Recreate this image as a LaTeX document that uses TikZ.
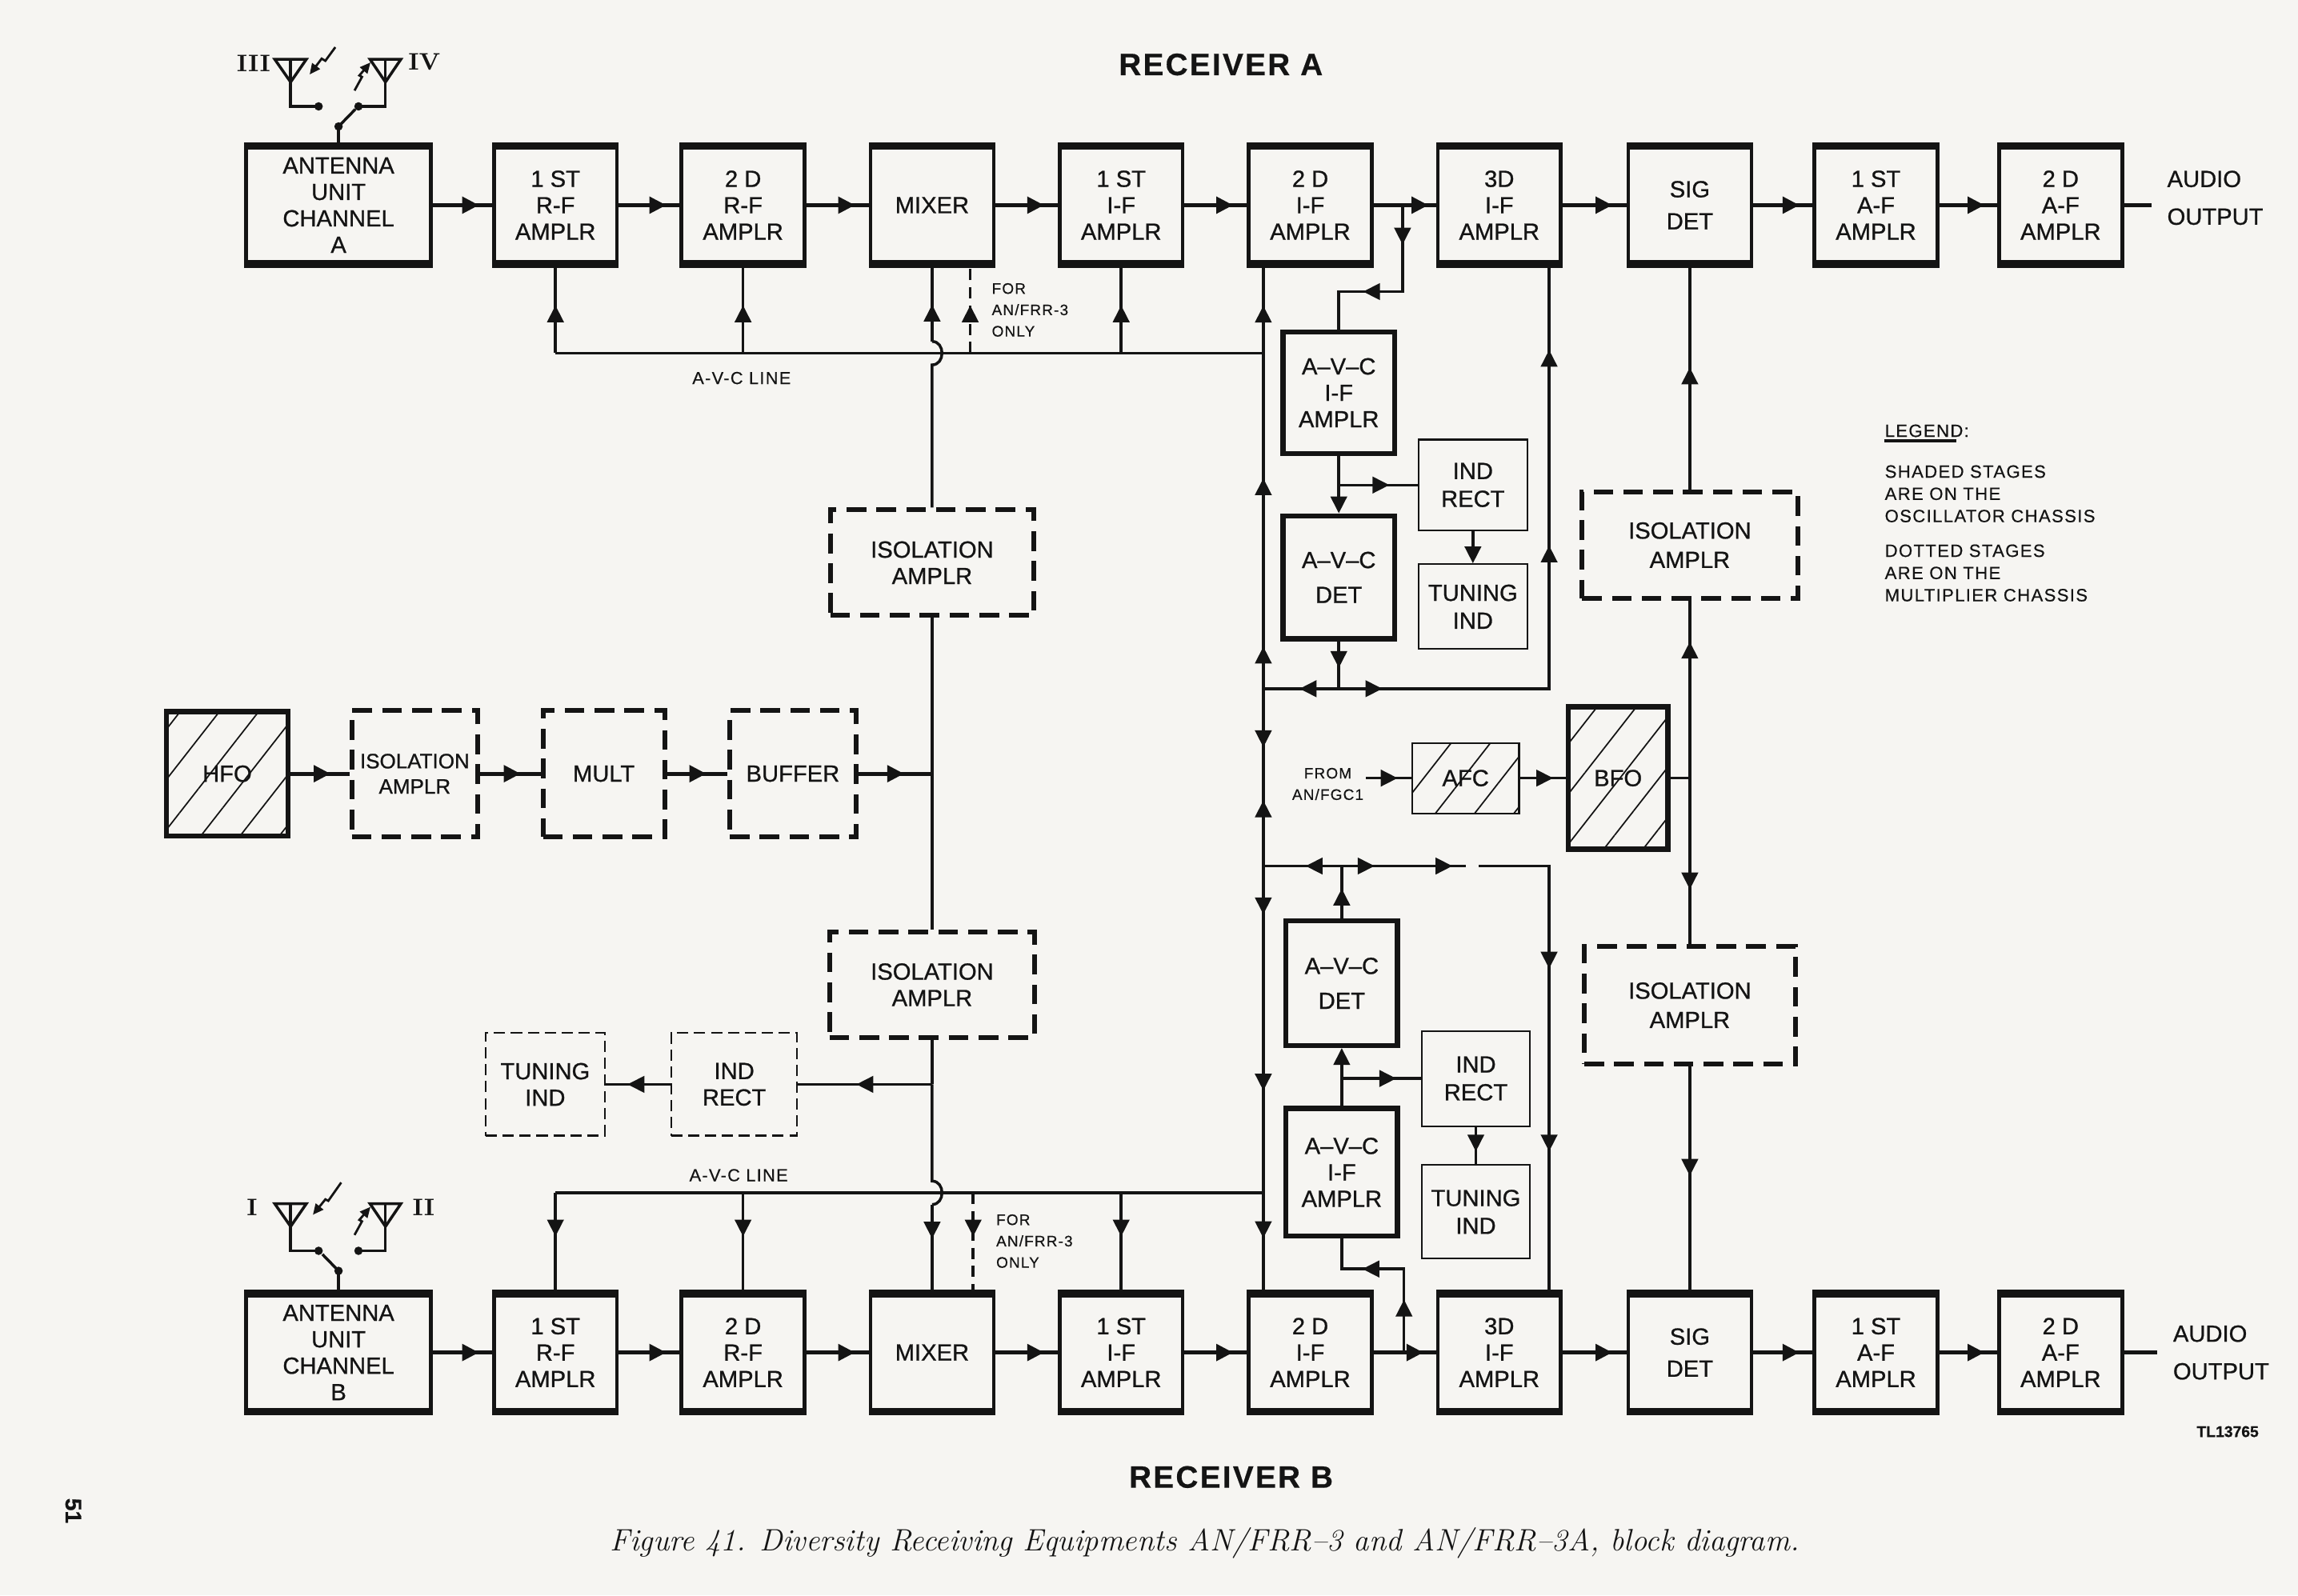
\documentclass[tikz,border=0pt]{standalone}
\usepackage{fontspec}
\newfontfamily\lbl[FakeBold=0.8]{Liberation Sans}
\newfontfamily\lblsp[LetterSpace=6,FakeBold=0.5]{Liberation Sans}
\usetikzlibrary{arrows.meta,decorations.markings,patterns.meta}

\newcommand{\dpx}{0.52114pt}
\newcommand{\boxfont}{\lbl\fontsize{8.3}{9.4}\selectfont}
\newcommand{\smallboxfont}{\lbl\fontsize{7.4}{9}\selectfont}
\newcommand{\tinyfont}{\lblsp\fontsize{5.4}{7.6}\selectfont}
\newcommand{\linefont}{\lblsp\fontsize{6.2}{7.6}\selectfont}
\newcommand{\legfont}{\lblsp\fontsize{6.3}{7.9}\selectfont}
\newcommand{\titlefont}{\lblsp\bfseries\fontsize{11}{13}\selectfont}
\newcommand{\numfont}{\rmfamily\bfseries\fontsize{8.5}{9}\selectfont}
\definecolor{paper}{RGB}{246,245,242}
\definecolor{ink}{RGB}{20,20,20}

\tikzset{
  arrowat/.style={postaction={decorate,decoration={markings,
      mark=at position #1 with {\arrow{Triangle[length=6pt,width=5.8pt]}}}}},
  backat/.style={postaction={decorate,decoration={markings,
      mark=at position #1 with {\arrowreversed{Triangle[length=6pt,width=5.8pt]}}}}}
}

\begin{document}
\begin{tikzpicture}[x=0.52114pt, y=-0.52114pt, color=ink,
  stage/.style={draw, line width=1.3pt, align=center, inner sep=0pt, font=\boxfont,
    minimum width=84*\dpx, minimum height=83*\dpx,
    path picture={\draw[line width=4pt]
      (path picture bounding box.north west) -- (path picture bounding box.north east)
      (path picture bounding box.south west) -- (path picture bounding box.south east);}},
  avcstage/.style={draw, line width=1.8pt, align=center, inner sep=0pt, font=\boxfont,
    minimum width=76*\dpx, minimum height=84*\dpx},
  osc/.style={draw, line width=1.9pt, align=center, inner sep=0pt, font=\boxfont,
    pattern={Lines[angle=52,distance=11pt,line width=0.5pt]}, pattern color=ink},
  afcbox/.style={osc, line width=0.6pt},
  multbox/.style={draw, line width=1.7pt, dash pattern=on 7pt off 3.6pt, align=center,
    inner sep=0pt, font=\boxfont},
  indbox/.style={draw, line width=0.6pt, align=center, inner sep=0pt, font=\boxfont,
    minimum width=74*\dpx},
  inddash/.style={indbox, dash pattern=on 4pt off 2pt},
  sig/.style={line width=1.4pt},
  ctl/.style={line width=1pt},
  only/.style={ctl, dash pattern=on 4pt off 2.5pt},
  bolt/.style={line width=0.8pt, -{Triangle[length=3.8pt,width=3.4pt]}}
]
% page
\path[fill=paper, use as bounding box] (0,0) rectangle (1568,1088.7);

% receiver rows
\node[stage, minimum width=126*\dpx] (antA) at (231,140) {ANTENNA\\UNIT\\CHANNEL\\A};
\node[stage, minimum width=126*\dpx] (antB) at (231,923) {ANTENNA\\UNIT\\CHANNEL\\B};
\foreach \n/\x/\txt in {rfone/379/{1 ST\\R-F\\AMPLR}, rftwo/507/{2 D\\R-F\\AMPLR},
    mix/636/MIXER, ifone/765/{1 ST\\I-F\\AMPLR}, iftwo/894/{2 D\\I-F\\AMPLR},
    ifthree/1023/{3D\\I-F\\AMPLR}, sig/1153/{SIG\\[2pt]DET},
    afone/1280/{1 ST\\A-F\\AMPLR}, aftwo/1406/{2 D\\A-F\\AMPLR}} {
  \node[stage] (\n A) at (\x,140) {\txt};
  \node[stage] (\n B) at (\x,923) {\txt};
}
\foreach \a/\b/\p in {ant/rfone/.78, rfone/rftwo/.78, rftwo/mix/.78, mix/ifone/.78,
    ifone/iftwo/.78, ifthree/sig/.78, sig/afone/.78, afone/aftwo/.78} {
  \draw[sig, arrowat=\p] (\a A) -- (\b A);
  \draw[sig, arrowat=\p] (\a B) -- (\b B);
}
\draw[sig, arrowat=.88] (iftwoA) -- (ifthreeA);
\draw[sig, arrowat=.80] (iftwoB) -- (ifthreeB);

% audio outputs
\coordinate (outA) at (1468,140);
\coordinate (outB) at (1472,923);
\draw[sig] (aftwoA) -- (outA);
\draw[sig] (aftwoB) -- (outB);
\node[font=\boxfont, align=left, anchor=west] (audA) at (1472,135) {AUDIO\\[4pt]OUTPUT};
\node[font=\boxfont, align=left, anchor=west] (audB) at (1476,923) {AUDIO\\[4pt]OUTPUT};

% antennas, receiver A
\draw[ctl] (187.5,40.5) -- (209,40.5) -- (198.3,56) -- cycle;
\draw[ctl] (198.3,40.5) -- (198.3,72.6) -- (217.4,72.6);
\draw[ctl] (252.5,40.5) -- (273.5,40.5) -- (263,56) -- cycle;
\draw[ctl] (263,40.5) -- (263,72.6) -- (244.6,72.6);
\fill (217.4,72.6) circle[radius=1.5pt] (244.6,72.6) circle[radius=1.5pt]
  (231,86.3) circle[radius=1.5pt];
\draw[ctl] (231,86.3) -- (242.4,74.6);
\draw[ctl] (231,86.3) -- (antA.north);
\draw[bolt] (228.8,32.2) -- (222,41.5) -- (219.5,40) -- (211.3,50.8);
\draw[bolt] (241.9,61.8) -- (247,52.5) -- (245.2,51.5) -- (252.8,42.6);
\node[font=\numfont] (threeA) at (173,43) {III};
\node[font=\numfont] (fourA) at (289.5,42) {IV};

% antennas, receiver B
\begin{scope}[shift={(0,781)}]
\draw[ctl] (187.5,40.5) -- (209,40.5) -- (198.3,56) -- cycle;
\draw[ctl] (198.3,40.5) -- (198.3,72.6) -- (217.4,72.6);
\draw[ctl] (252.5,40.5) -- (273.5,40.5) -- (263,56) -- cycle;
\draw[ctl] (263,40.5) -- (263,72.6) -- (244.6,72.6);
\fill (217.4,72.6) circle[radius=1.5pt] (244.6,72.6) circle[radius=1.5pt]
  (231,86.3) circle[radius=1.5pt];
\draw[ctl] (231,86.3) -- (220,75);
\draw[bolt] (232.8,26) -- (224,38.5) -- (222,37.5) -- (213.5,48);
\draw[bolt] (241.9,61.8) -- (247,52.5) -- (245.2,51.5) -- (252.8,42.6);
\node[font=\numfont] (oneB) at (172,43) {I};
\node[font=\numfont] (twoB) at (289,43) {II};
\end{scope}
\draw[ctl] (231,867.3) -- (antB.north);

% A-V-C lines
\coordinate (avcAL) at (379,241);
\coordinate (avcAR) at (862,241);
\coordinate (avcBL) at (379,814);
\coordinate (avcBR) at (862,814);
\draw[ctl] (avcAL) -- (avcAR);
\draw[ctl] (avcBL) -- (avcBR);
\foreach \n in {rfone, rftwo, ifone} {
  \draw[ctl, arrowat=.56] (\n A.south |- avcAL) -- (\n A.south);
  \draw[ctl, arrowat=.45] (\n B.north |- avcBL) -- (\n B.north);
}
\node[font=\linefont] (avclblA) at (506,258) {A-V-C LINE};
\node[font=\linefont] (avclblB) at (504,802) {A-V-C LINE};
\coordinate (forA) at (662,241);
\coordinate (forB) at (664,814);
\draw[only, arrowat=.56] (forA) -- (forA |- mixA.south);
\draw[only, arrowat=.45] (forB) -- (forB |- mixB.north);
\node[font=\tinyfont, align=left, anchor=west] (forlblA) at (670,211.5) {FOR\\AN/FRR-3\\ONLY};
\node[font=\tinyfont, align=left, anchor=west] (forlblB) at (673,847) {FOR\\AN/FRR-3\\ONLY};

% oscillator chain
\node[osc, minimum width=83*\dpx, minimum height=85*\dpx] (hfo) at (155,528) {HFO};
\node[multbox, minimum width=86*\dpx, minimum height=86*\dpx, font=\smallboxfont] (isoL) at (283,528) {ISOLATION\\AMPLR};
\node[multbox, minimum width=83*\dpx, minimum height=86*\dpx] (mult) at (412,528) {MULT};
\node[multbox, minimum width=86*\dpx, minimum height=86*\dpx] (buffer) at (541,528) {BUFFER};
\node[multbox, minimum width=139*\dpx, minimum height=72*\dpx] (isoA) at (636,384) {ISOLATION\\AMPLR};
\node[multbox, minimum width=140*\dpx, minimum height=72*\dpx] (isoB) at (636,672) {ISOLATION\\AMPLR};
\node[inddash, minimum width=86*\dpx, minimum height=70*\dpx] (indrectL) at (501,740) {IND\\RECT};
\node[inddash, minimum width=81*\dpx, minimum height=70*\dpx] (tuningL) at (372,740) {TUNING\\IND};
\coordinate (lo) at (636,528);
\coordinate (tapL) at (636,740);
\coordinate (hopA) at (636,233);
\coordinate (hopB) at (636,822);
\draw[sig, arrowat=.69] (hfo) -- (isoL);
\draw[sig, arrowat=.67] (isoL) -- (mult);
\draw[sig, arrowat=.65] (mult) -- (buffer);
\draw[sig, arrowat=.62] (buffer) -- (lo);
\draw[ctl] (isoA) -- (isoB);
\draw[ctl] (isoA) -- (636,249) .. controls (645,249) and (645,233) .. (hopA);
\draw[ctl, arrowat=.5] (hopA) -- (mixA.south);
\draw[ctl] (isoB) -- (tapL);
\draw[ctl] (tapL) -- (636,806) .. controls (645,806) and (645,822) .. (hopB);
\draw[ctl, arrowat=.4] (hopB) -- (mixB.north);
\draw[ctl, arrowat=.565] (tapL) -- (indrectL);
\draw[ctl, arrowat=.66] (indrectL) -- (tuningL);

% A-V-C stages, receiver A
\node[avcstage, minimum height=83*\dpx] (avcifA) at (913.5,268) {A–V–C\\I-F\\AMPLR};
\node[avcstage] (avcdetA) at (913.5,394) {A–V–C\\[3pt]DET};
\node[indbox, minimum height=62*\dpx] (indrectA) at (1005,331) {IND\\[0.5pt]RECT};
\node[indbox, minimum height=58*\dpx] (tuningA) at (1005,414) {TUNING\\[0.5pt]IND};
\coordinate (tapA) at (957,140);
\coordinate (brA) at (913.5,331);
\coordinate (jA) at (913.5,470);
\coordinate (busjA) at (862,470);
\coordinate (rvA) at (1057,470);
\draw[ctl, arrowat=.21, arrowat=.67] (tapA) -- (957,199) -| (avcifA.north);
\draw[ctl, -{Triangle[length=6pt,width=5.8pt]}] (avcifA) -- (avcdetA);
\draw[ctl, arrowat=.64] (brA) -- (indrectA);
\draw[ctl, -{Triangle[length=6pt,width=5.8pt]}] (indrectA) -- (tuningA);
\draw[ctl, arrowat=.56] (avcdetA) -- (jA);
\draw[ctl, arrowat=.52] (jA) -- (busjA);
\draw[ctl, arrowat=.069, arrowat=.56, arrowat=.87] (jA) -- (rvA) -- (rvA |- ifthreeA.south);

% A-V-C bus between the receivers
\coordinate (busjB) at (862,591);
\draw[ctl, arrowat=.10, arrowat=.50, arrowat=.91] (busjA) -- (busjA |- iftwoA.south);
\draw[ctl, arrowat=.33, backat=.63] (busjA) -- (busjB);
\draw[ctl, arrowat=.114, arrowat=.53, arrowat=.878] (busjB) -- (busjB |- iftwoB.north);

% A-V-C stages, receiver B
\node[avcstage, minimum height=85*\dpx] (avcdetB) at (915.5,671) {A–V–C\\[3pt]DET};
\node[avcstage, minimum height=87*\dpx] (avcifB) at (915.5,800) {A–V–C\\I-F\\AMPLR};
\node[indbox, minimum height=65*\dpx] (indrectB) at (1007,736) {IND\\[0.5pt]RECT};
\node[indbox, minimum height=64*\dpx] (tuningB) at (1007,827) {TUNING\\[0.5pt]IND};
\coordinate (jB) at (915.5,591);
\coordinate (gapL) at (1000,591);
\coordinate (gapR) at (1009,591);
\coordinate (rvB) at (1057,591);
\coordinate (brB) at (915.5,736);
\coordinate (tapB) at (958,923);
\draw[ctl, arrowat=.57] (avcdetB) -- (jB);
\draw[ctl, arrowat=.46] (jB) -- (busjB);
\draw[ctl, arrowat=.265, arrowat=.894] (jB) -- (gapL);
\draw[ctl, arrowat=.35, arrowat=.72] (gapR) -- (rvB) -- (rvB |- ifthreeB.north);
\draw[ctl, -{Triangle[length=6pt,width=5.8pt]}] (avcifB) -- (avcdetB);
\draw[ctl, arrowat=.69] (brB) -- (indrectB);
\draw[ctl, arrowat=.66] (indrectB) -- (tuningB);
\draw[ctl, arrowat=.30, arrowat=.71] (tapB) -- (958,866) -| (avcifB.south);

% beat oscillator and isolation stages
\node[multbox, minimum width=147*\dpx, minimum height=73*\dpx] (isoC) at (1153,372) {ISOLATION\\[1pt]AMPLR};
\node[multbox, minimum width=144*\dpx, minimum height=80*\dpx] (isoD) at (1153,686) {ISOLATION\\[1pt]AMPLR};
\node[osc, minimum width=68*\dpx, minimum height=97*\dpx] (bfo) at (1104,531) {BFO};
\node[afcbox, minimum width=73*\dpx, minimum height=48*\dpx] (afc) at (1000,531) {AFC};
\node[font=\tinyfont, align=center] (fgc) at (906,535) {FROM\\AN/FGC1};
\coordinate (fgcout) at (932,531);
\coordinate (bfoj) at (1153,531);
\draw[ctl, arrowat=.7] (fgcout) -- (afc);
\draw[ctl, arrowat=.73] (afc) -- (bfo);
\draw[ctl] (bfo) -- (bfoj);
\draw[ctl, arrowat=.55] (isoC) -- (sigA);
\draw[ctl, arrowat=.77] (bfoj) -- (isoC);
\draw[ctl, arrowat=.67] (bfoj) -- (isoD);
\draw[ctl, arrowat=.49] (isoD) -- (sigB);

% legend
\node[font=\legfont, anchor=west, inner sep=0pt] (legend) at (1285.7,294) {LEGEND:};
\draw[line width=1.2pt] (1285.7,301) -- (1335,301);
\node[font=\legfont, align=left, anchor=west, inner sep=0pt] (shaded) at (1285.7,337)
  {SHADED STAGES\\ARE ON THE\\OSCILLATOR CHASSIS};
\node[font=\legfont, align=left, anchor=west, inner sep=0pt] (dotted) at (1285.7,391)
  {DOTTED STAGES\\ARE ON THE\\MULTIPLIER CHASSIS};

% titles and caption
\node[font=\titlefont] (recA) at (833,44) {RECEIVER A};
\node[font=\titlefont] (recB) at (840,1008) {RECEIVER B};
\node[font=\lbl\bfseries\fontsize{5.5}{6}\selectfont] (tl) at (1520,977) {TL13765};
\node[font=\lbl\bfseries\fontsize{8}{9}\selectfont, rotate=-90] (page) at (50,1031) {51};
\node[font=\itshape\fontsize{11}{13}\selectfont] (caption) at (822,1053)
  {Figure 41. Diversity Receiving Equipments AN/FRR--3 and AN/FRR--3A, block diagram.};
\end{tikzpicture}
\end{document}
